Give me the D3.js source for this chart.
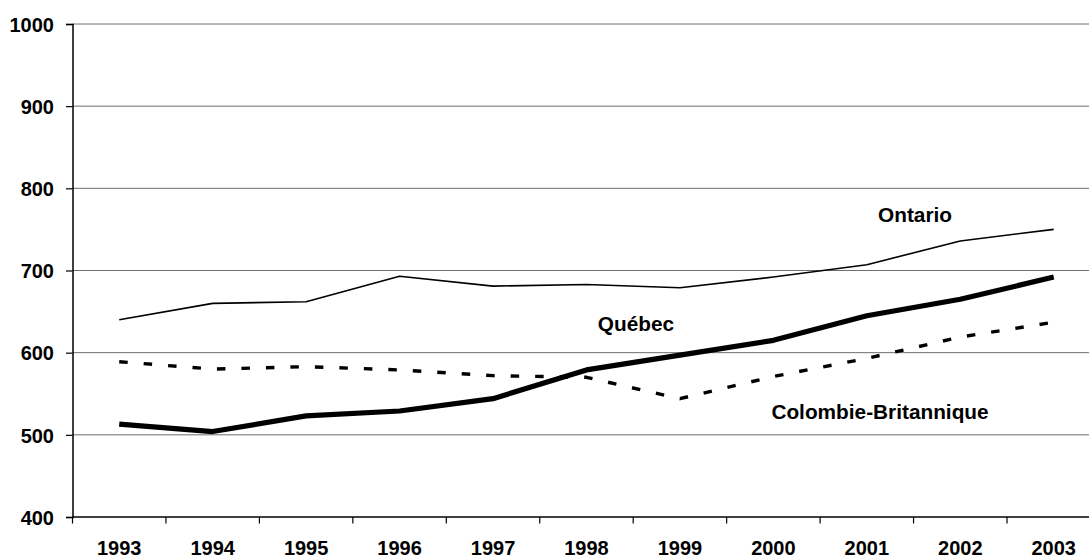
<!DOCTYPE html>
<html>
  <head>
    <title>Chart</title>
    <script src="https://d3js.org/d3.v7.min.js"></script>
    <style>
      body { margin: 0; background: #fff; }
      text { font-family: Arial, "Liberation Sans", sans-serif; font-weight: bold; fill: #000; }
      .axis .domain { stroke: #000; stroke-width: 1.5px; }
      .axis .tick line { stroke: #000; stroke-width: 1.2px; }
      .axis .tick text { font-size: 20px; }
      .grid line { stroke: #6e6e6e; stroke-width: 1px; }
      .series { fill: none; stroke: #000; stroke-linejoin: round; }
      .series__label { font-size: 20.8px; text-anchor: middle; }
    </style>
  </head>
  <body>
    <svg width="1089" height="558"></svg>
    <script>
      const years = ["1993","1994","1995","1996","1997","1998","1999","2000","2001","2002","2003"];
      const ontario = [640, 660, 662, 693, 681, 683, 679, 692, 707, 736, 750];
      const quebec = [513, 504, 523, 529, 544, 579, 597, 615, 645, 665, 692];
      const colombie = [589, 580, 583, 579, 572, 570, 544, 571, 593, 619, 637];
      const yTicks = [400, 500, 600, 700, 800, 900, 1000];

      const svg = d3.select("svg");
      const width = +svg.attr("width");
      const margin = {left: 72.5, top: 24, bottom: 517};
      const band = 93.45;

      const xScale = d3.scaleBand().domain(years).range([margin.left, margin.left + band * years.length]);
      const yScale = d3.scaleLinear().domain([400, 1000]).range([margin.bottom, margin.top]);

      // gridlines
      svg.append("g").attr("class", "grid")
        .selectAll("line").data(yTicks.filter(d => d > 400))
        .enter().append("line")
          .attr("x1", margin.left).attr("x2", width)
          .attr("y1", d => yScale(d)).attr("y2", d => yScale(d));

      const xAxis = d3.axisBottom(xScale).tickSize(0).tickPadding(24);
      const xAxisG = svg.append("g").attr("class", "axis")
        .attr("transform", `translate(0, ${margin.bottom})`)
        .call(xAxis);
      xAxisG.select(".domain").attr("d", `M${margin.left},0H${width}`);

      // tick marks sit between categories
      xAxisG.selectAll(".sep").data(years)
        .enter().append("line")
          .attr("class", "sep")
          .attr("x1", d => xScale(d)).attr("x2", d => xScale(d))
          .attr("y1", 0).attr("y2", 6.5)
          .attr("stroke", "#000").attr("stroke-width", 1.2);

      const yAxis = d3.axisLeft(yScale).tickValues(yTicks).tickFormat(d3.format("d"))
        .tickSize(6.5).tickPadding(12);
      svg.append("g").attr("class", "axis")
        .attr("transform", `translate(${margin.left}, 0)`)
        .call(yAxis)
        .selectAll(".tick text").attr("dy", "0.36em");

      const line = d3.line()
        .x((d, i) => xScale(years[i]) + xScale.bandwidth() / 2)
        .y(d => yScale(d));

      svg.append("path").attr("class", "series").datum(ontario)
        .attr("d", line).attr("stroke-width", 1.6);
      svg.append("path").attr("class", "series").datum(colombie)
        .attr("d", line).attr("stroke-width", 3.4).attr("stroke-dasharray", "8.5,16");
      svg.append("path").attr("class", "series").datum(quebec)
        .attr("d", line).attr("stroke-width", 5.2);

      const labels = [
        {text: "Ontario", x: 915, y: 222},
        {text: "Québec", x: 636, y: 331},
        {text: "Colombie-Britannique", x: 880, y: 419}
      ];
      svg.selectAll(".series__label").data(labels)
        .enter().append("text")
          .attr("class", "series__label")
          .attr("x", d => d.x).attr("y", d => d.y)
          .text(d => d.text);
    </script>
  </body>
</html>
